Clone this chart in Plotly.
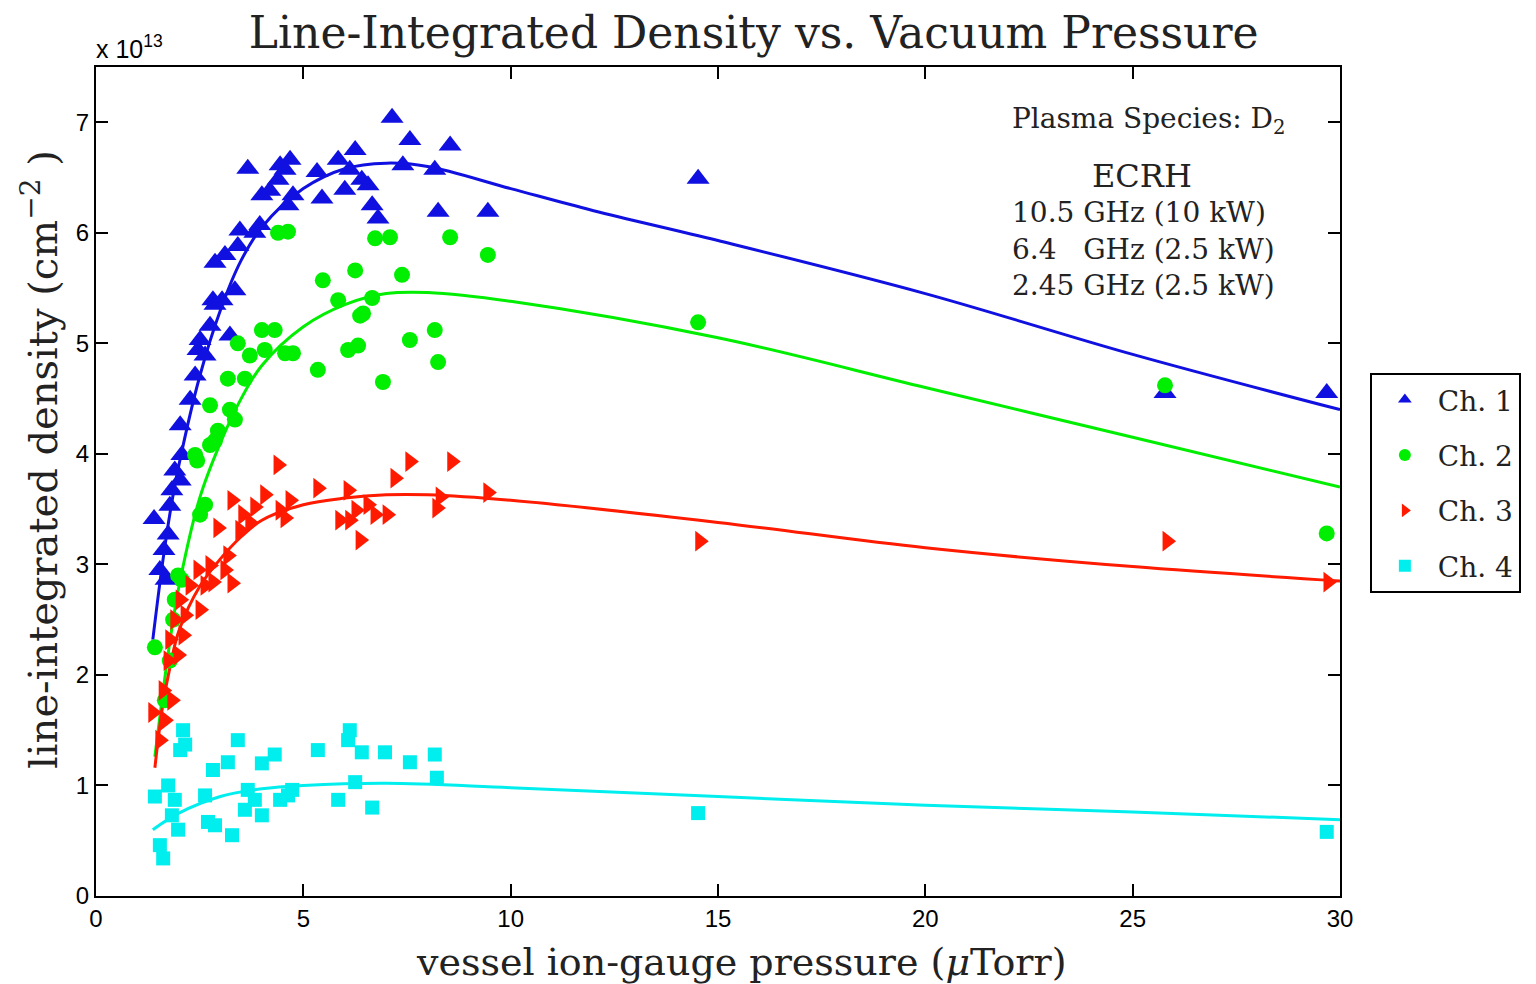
import plotly.graph_objects as go

# ---------------- data (x: µTorr, y: 1e13 cm^-2) ----------------
ch1_x = [1.40, 1.54, 1.64, 1.69, 1.74, 1.78, 1.83, 1.90, 2.03, 2.07, 2.03, 2.27, 2.39, 2.46, 2.51, 2.63,
         2.75, 2.82, 2.87, 2.87, 3.11, 3.04, 3.23, 3.35, 3.42, 3.47, 3.66, 3.83, 3.95, 4.00, 4.19, 4.39,
         4.44, 4.56, 4.63, 4.68, 4.75, 5.33, 5.45, 5.84, 6.00, 6.12, 6.25, 6.41, 6.56, 6.66, 6.80, 7.14,
         7.40, 7.57, 8.17, 8.25, 8.54, 9.45, 14.52, 25.78, 29.68]
ch1_y = [3.41, 2.95, 3.13, 2.86, 3.27, 3.53, 3.67, 3.85, 3.76, 3.99, 4.26, 4.49, 4.71, 4.94, 5.03, 4.89,
         5.16, 5.39, 5.35, 5.73, 5.80, 5.39, 5.07, 5.48, 5.88, 6.02, 6.58, 6.00, 6.07, 6.34, 6.38, 6.48,
         6.61, 6.57, 6.25, 6.66, 6.34, 6.55, 6.31, 6.66, 6.39, 6.57, 6.75, 6.48, 6.43, 6.25, 6.13, 7.04,
         6.61, 6.84, 6.57, 6.19, 6.79, 6.19, 6.49, 4.55, 4.55]

ch2_x = [1.42, 1.66, 1.78, 1.86, 1.90, 1.98, 2.07, 2.39, 2.44, 2.51, 2.63, 2.75, 2.75, 2.87, 2.94, 3.18,
         3.23, 3.35, 3.42, 3.59, 3.71, 4.00, 4.07, 4.31, 4.39, 4.56, 4.63, 4.75, 5.35, 5.47, 5.84, 6.08,
         6.25, 6.32, 6.37, 6.44, 6.66, 6.73, 6.92, 7.09, 7.38, 7.57, 8.17, 8.25, 8.54, 9.45, 14.52, 25.78,
         29.68]
ch2_y = [2.25, 1.77, 2.13, 2.50, 2.68, 2.90, 2.86, 3.99, 3.94, 3.45, 3.54, 4.08, 4.44, 4.12, 4.21, 4.68,
         4.40, 4.31, 5.00, 4.68, 4.89, 5.12, 4.94, 5.12, 6.00, 4.91, 6.01, 4.91, 4.76, 5.57, 5.39, 4.94,
         5.66, 4.98, 5.25, 5.27, 5.41, 5.95, 4.65, 5.96, 5.62, 5.03, 5.12, 4.83, 5.96, 5.80, 5.19, 4.62,
         3.28]

ch3_x = [1.37, 1.54, 1.62, 1.66, 1.74, 1.78, 1.83, 1.90, 1.98, 2.03, 2.10, 2.15, 2.27, 2.46, 2.51, 2.63,
         2.75, 2.82, 2.94, 3.11, 3.18, 3.28, 3.28, 3.47, 3.54, 3.71, 3.83, 4.07, 4.39, 4.44, 4.56, 4.68,
         5.35, 5.88, 6.08, 6.12, 6.27, 6.37, 6.56, 6.73, 7.02, 7.21, 7.57, 8.22, 8.30, 8.58, 9.45, 14.56,
         25.83, 29.71]
ch3_y = [1.66, 1.41, 1.86, 1.59, 2.13, 2.32, 1.77, 2.50, 2.18, 2.68, 2.36, 2.54, 2.81, 2.95, 2.59, 2.81,
         2.99, 2.84, 3.33, 2.95, 3.08, 2.83, 3.58, 3.31, 3.45, 3.38, 3.52, 3.63, 3.90, 3.49, 3.42, 3.58,
         3.69, 3.40, 3.67, 3.40, 3.49, 3.22, 3.54, 3.45, 3.45, 3.78, 3.93, 3.51, 3.61, 3.93, 3.65, 3.21,
         3.21, 2.84]

ch4_x = [1.42, 1.54, 1.62, 1.74, 1.83, 1.90, 1.98, 2.03, 2.10, 2.15, 2.63, 2.70, 2.82, 2.87, 3.18, 3.28,
         3.42, 3.59, 3.66, 3.83, 4.00, 4.00, 4.31, 4.44, 4.63, 4.73, 5.35, 5.84, 6.08, 6.12, 6.25, 6.41,
         6.66, 6.97, 7.57, 8.17, 8.22, 14.52, 29.68]
ch4_y = [0.90, 0.46, 0.34, 1.00, 0.73, 0.87, 0.60, 1.32, 1.50, 1.37, 0.91, 0.67, 1.14, 0.64, 1.21, 0.55,
         1.41, 0.78, 0.96, 0.87, 0.73, 1.20, 1.28, 0.87, 0.91, 0.96, 1.32, 0.87, 1.41, 1.50, 1.03, 1.30,
         0.80, 1.30, 1.21, 1.28, 1.07, 0.75, 0.58]

# fitted curves
fit1_x = [1.37, 1.6, 1.8, 2.0, 2.5, 3.0, 3.5, 4.0, 5.0, 6.0, 7.0, 8.0, 10.0, 12.0, 15.0, 20.0, 25.0, 30.0]
fit1_y = [2.32, 3.00, 3.50, 3.90, 4.70, 5.30, 5.75, 6.05, 6.40, 6.58, 6.63, 6.60, 6.40, 6.20, 5.93, 5.45, 4.90, 4.40]
fit2_x = [1.42, 1.6, 1.8, 2.0, 2.5, 3.0, 3.5, 4.0, 5.0, 6.0, 7.0, 8.0, 10.0, 15.0, 20.0, 25.0, 30.0]
fit2_y = [1.26, 1.80, 2.35, 2.80, 3.60, 4.10, 4.50, 4.80, 5.15, 5.35, 5.45, 5.46, 5.38, 5.05, 4.60, 4.15, 3.70]
fit3_x = [1.42, 1.6, 1.8, 2.0, 2.5, 3.0, 3.5, 4.0, 5.0, 6.0, 7.0, 8.0, 10.0, 15.0, 20.0, 25.0, 30.0]
fit3_y = [1.16, 1.70, 2.10, 2.40, 2.80, 3.05, 3.25, 3.40, 3.54, 3.60, 3.63, 3.63, 3.58, 3.38, 3.15, 2.98, 2.85]
fit4_x = [1.37, 2.0, 3.0, 4.0, 5.0, 7.0, 10.0, 15.0, 20.0, 25.0, 30.0]
fit4_y = [0.60, 0.75, 0.90, 0.97, 1.00, 1.02, 0.98, 0.90, 0.82, 0.76, 0.69]

x_ticks = [0, 5, 10, 15, 20, 25, 30]
y_ticks = [0, 1, 2, 3, 4, 5, 6, 7]

names = ["Ch. 1", "Ch. 2", "Ch. 3", "Ch. 4"]
colors = ["#1010e0", "#00ee00", "#ff1a00", "#00eeee"]
symbols = ["triangle-up", "circle", "triangle-right", "square"]
sizes = [20, 16, 18, 14]

pts = [(ch1_x, ch1_y), (ch2_x, ch2_y), (ch3_x, ch3_y), (ch4_x, ch4_y)]
fits = [(fit1_x, fit1_y), (fit2_x, fit2_y), (fit3_x, fit3_y), (fit4_x, fit4_y)]

SERIF = "DejaVu Serif, Liberation Serif, serif"
SANS = "Liberation Sans Narrow, Liberation Sans, Arial, sans-serif"
TXT = "#222"

fig = go.Figure()
for (fx, fy), c in zip(fits, colors):
    fig.add_trace(go.Scatter(x=fx, y=fy, mode="lines", line=dict(color=c, width=3, shape="spline"),
                             showlegend=False, hoverinfo="skip"))
for i, ((px, py), n, c, s, sz) in enumerate(zip(pts, names, colors, symbols, sizes)):
    fig.add_trace(go.Scatter(x=px, y=py, mode="markers", name=n, legendgroup=f"g{i}",
                             marker=dict(color=c, symbol=s, size=sz, line=dict(width=0))))

axis_common = dict(showline=True, linecolor="black", linewidth=2, mirror="allticks",
                   ticks="inside", ticklen=12, tickwidth=1.5, tickcolor="black",
                   showgrid=False, zeroline=False,
                   tickfont=dict(family=SANS, size=24, color="black"))

fig.update_xaxes(range=[0, 30], tickvals=x_ticks, ticktext=[str(v) for v in x_ticks], **axis_common)
fig.update_yaxes(range=[0, 7.5], tickvals=y_ticks, ticktext=[str(v) for v in y_ticks], **axis_common)

# axis titles as annotations (positioned like the reference)
fig.add_annotation(text="vessel ion-gauge pressure (<i>μ</i>Torr)", xref="paper", yref="paper",
                   x=0.519, y=-0.0796, xanchor="center", yanchor="middle", showarrow=False,
                   font=dict(family=SERIF, size=38, color=TXT))
fig.add_annotation(text="line-integrated density (cm<sup>−2</sup> )", xref="paper", yref="paper",
                   x=-0.045, y=0.526, xanchor="center", yanchor="middle", showarrow=False,
                   textangle=-90, font=dict(family=SERIF, size=40, color=TXT))

fig.add_annotation(text="x 10<sup>13</sup>", xref="paper", yref="paper", x=0, y=1.0,
                   xanchor="left", yanchor="bottom", showarrow=False,
                   font=dict(family=SANS, size=25, color="black"), xshift=-2, yshift=2)
fig.add_annotation(text="Plasma Species: D<sub>2</sub>", xref="paper", yref="paper",
                   x=0.7347, y=0.935, xanchor="left", yanchor="middle", showarrow=False,
                   font=dict(family=SERIF, size=28, color=TXT))
fig.add_annotation(text="ECRH", xref="paper", yref="paper", x=0.841, y=0.8685,
                   xanchor="center", yanchor="middle", showarrow=False,
                   font=dict(family=SERIF, size=32, color=TXT))
for txt, yy in [("10.5 GHz (10 kW)", 0.824), ("6.4   GHz (2.5 kW)", 0.780), ("2.45 GHz (2.5 kW)", 0.737)]:
    fig.add_annotation(text=txt, xref="paper", yref="paper", x=0.7347, y=yy,
                       xanchor="left", yanchor="middle", showarrow=False,
                       font=dict(family=SERIF, size=28, color=TXT))

fig.update_layout(
    width=1528, height=976,
    margin=dict(l=88, r=196, t=59, b=88),
    paper_bgcolor="white", plot_bgcolor="white",
    title=dict(text="Line-Integrated Density vs. Vacuum Pressure", x=0.488, xanchor="center",
               y=0.975, yanchor="middle", font=dict(family=SERIF, size=44, color=TXT)),
    legend=dict(x=1.024, y=0.631, xanchor="left", yanchor="top", bordercolor="black", borderwidth=2,
                bgcolor="white", font=dict(family=SERIF, size=28, color=TXT),
                itemsizing="constant", itemwidth=56, tracegroupgap=16),
    showlegend=True,
)

fig.write_html("out.html")
